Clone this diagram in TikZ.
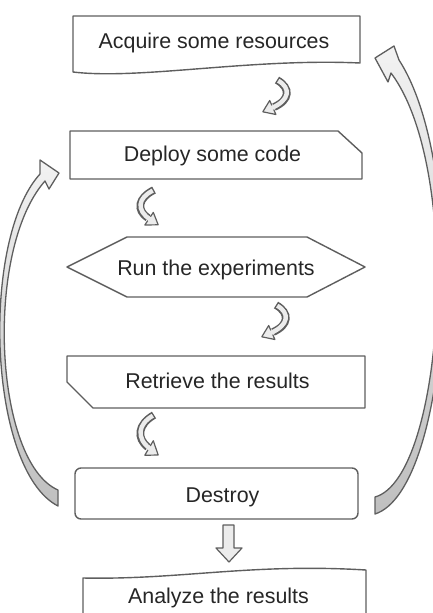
\documentclass[tikz,border=0pt]{standalone}
\usepackage{fontspec}
\setmainfont{Liberation Sans}
\definecolor{boxline}{HTML}{5E5E5E}
\definecolor{arrowfill}{HTML}{ECECEC}

\begin{document}
\begin{tikzpicture}[x=1pt, y=-1pt,
    box/.style={draw=boxline, fill=white, line width=1.4pt, line join=round},
    label/.style={text=black!85, font=\fontsize{21.4}{25}\selectfont, inner sep=0pt, anchor=base},
    bigarrow/.style={draw=boxline, line width=1.3pt, line join=round, top color=gray!10, bottom color=gray!50},
    headfill/.style={fill=arrowfill, draw=boxline, line width=1.2pt, line join=round}]
    \clip (0,0) rectangle (433,613);

    % Boxes
    \draw[box] (73,16) -- (360,16) -- (360,63) .. controls (250,58) and (140,80) .. (73,72) -- cycle;
    \draw[box] (70,131) -- (338,131) -- (362,153) -- (362,179) -- (70,179) -- cycle;
    \draw[box] (67,267) -- (127,237) -- (307,237) -- (365,267) -- (307,297) -- (127,297) -- cycle;
    \draw[box] (67,356) -- (365,356) -- (365,408) -- (93,408) -- (67,382) -- cycle;
    \draw[box, rounded corners=6pt] (75,468) rectangle (358,519);
    \draw[box] (83,640) -- (83,578) .. controls (180,580) and (250,563) .. (366,570) -- (366,640);

    % Labels
    \node[label] (acquire) at (214,48) {Acquire some resources};
    \node[label] (deploy) at (212.5,161) {Deploy some code};
    \node[label] (run) at (216,275) {Run the experiments};
    \node[label] (retrieve) at (217.5,388) {Retrieve the results};
    \node[label] (destroy) at (222.5,502) {Destroy};
    \node[label] (analyze) at (218.5,603) {Analyze the results};

    % Small arrows, bending right
    \foreach \x/\y in {277/80, 276/305} {
        \begin{scope}[shift={(\x,\y)}]
            \draw[boxline, line width=7.8pt] (0,0) .. controls (14,8) and (13,20) .. (-3,27);
            \draw[headfill] (-7.3,20.5) -- (-14.2,31.8) -- (-1.1,34.5) -- cycle;
            \draw[arrowfill, line width=4.4pt, shorten <=1.4pt, shorten >=-2.5pt] (0,0) .. controls (14,8) and (13,20) .. (-3,27);
        \end{scope}
    }
    % Small arrows, bending left
    \foreach \x/\y/\s in {154/190/1, 154/415/1.15} {
        \begin{scope}[shift={(\x,\y)}, yscale=\s]
            \draw[boxline, line width=7.8pt] (0,0) .. controls (-16,8) and (-18,20) .. (-6,28);
            \draw[headfill] (-0.7,22.4) -- (4.2,34.8) -- (-9.2,35) -- cycle;
            \draw[arrowfill, line width=4.4pt, shorten <=1.4pt, shorten >=-2.5pt] (0,0) .. controls (-16,8) and (-18,20) .. (-6,28);
        \end{scope}
    }

    % Straight arrow down
    \draw[headfill] (223,525) -- (234,525) -- (234,548) -- (242,548) -- (229,562) -- (216,548) -- (223,548) -- cycle;

    % Big arrows back up
    \draw[bigarrow] (58,506) .. controls (-12,470) and (-20,240) .. (40,174) -- (40,160) -- (59,173)
        -- (49,189) -- (45,181) .. controls (-16,250) and (-6,462) .. (58,490) -- cycle;
    \draw[bigarrow] (375,514) .. controls (450,490) and (470,170) .. (399,60) -- (394,46) -- (375,58)
        -- (388,82) -- (391,73) .. controls (464,170) and (444,478) .. (375,497) -- cycle;
\end{tikzpicture}
\end{document}
